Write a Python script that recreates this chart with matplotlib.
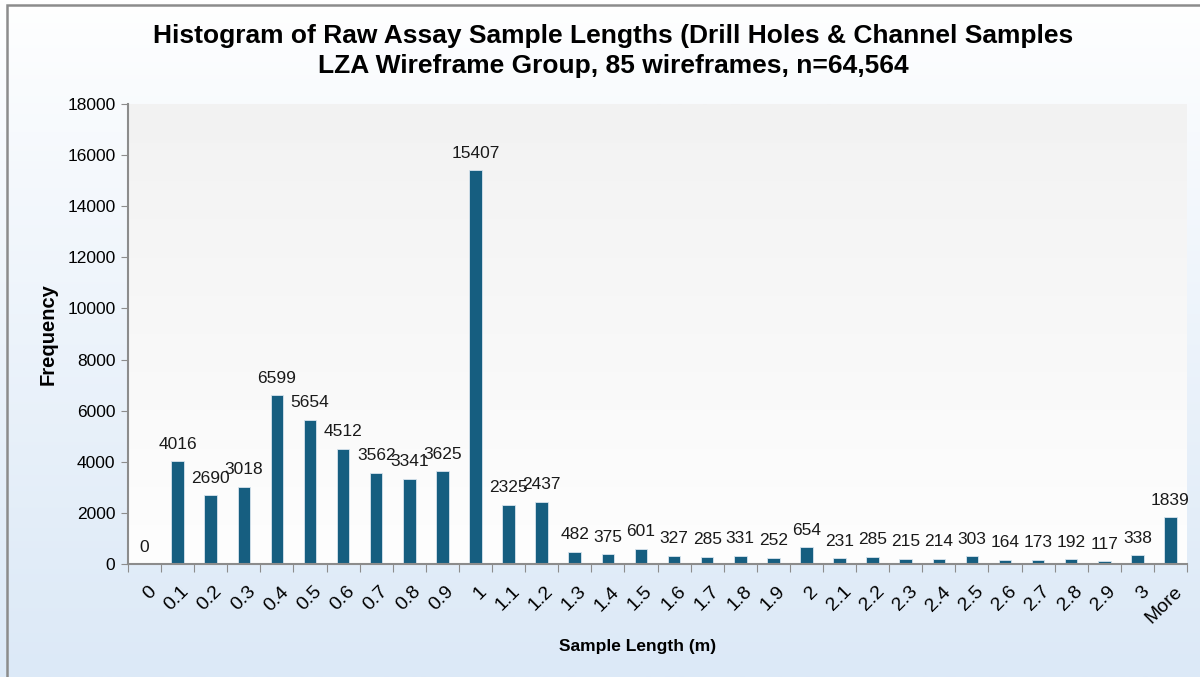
import numpy as np
import matplotlib
matplotlib.use("Agg")
import matplotlib.pyplot as plt
from matplotlib.patches import Rectangle
from matplotlib.transforms import ScaledTranslation

# Histogram bins (upper edge of each length class) and counts
bins = ["0", "0.1", "0.2", "0.3", "0.4", "0.5", "0.6", "0.7", "0.8", "0.9",
        "1", "1.1", "1.2", "1.3", "1.4", "1.5", "1.6", "1.7", "1.8", "1.9",
        "2", "2.1", "2.2", "2.3", "2.4", "2.5", "2.6", "2.7", "2.8", "2.9",
        "3", "More"]
counts = [0, 4016, 2690, 3018, 6599, 5654, 4512, 3562, 3341, 3625,
          15407, 2325, 2437, 482, 375, 601, 327, 285, 331, 252,
          654, 231, 285, 215, 214, 303, 164, 173, 192, 117,
          338, 1839]

title = ("Histogram of Raw Assay Sample Lengths (Drill Holes & Channel Samples\n"
         "LZA Wireframe Group, 85 wireframes, n=64,564")

plt.rcParams["font.family"] = ["Liberation Sans", "DejaVu Sans"]

W, H = 1200, 677
fig = plt.figure(figsize=(W / 100, H / 100), dpi=100)

# figure background: white at the top fading to pale blue
bg = fig.add_axes([0, 0, 1, 1], zorder=-10)
t = np.linspace(0, 1, 256)[:, None]
top = np.array([1.0, 1.0, 1.0])
bot = np.array([220, 233, 247]) / 255
grad = top + (bot - top) * t[..., None] ** 0.9
bg.imshow(grad, aspect="auto", extent=[0, 1, 0, 1], origin="upper")
bg.set_axis_off()
# chart frame (only the left and top edges fall inside the image)
bg.add_patch(Rectangle((7 / W, -0.1), 1.2, 1 - 5 / H + 0.1, fill=False,
                       edgecolor="#8c8c8c", linewidth=1.8,
                       transform=bg.transAxes, clip_on=False))
bg.set_xlim(0, 1)
bg.set_ylim(0, 1)

left, right, top_px, bottom_px = 128, 1187, 104, 564
ax = fig.add_axes([left / W, 1 - bottom_px / H, (right - left) / W,
                   (bottom_px - top_px) / H])
ax.patch.set_alpha(0)

# plot area: light grey at the top fading to white
pg = np.linspace(0, 1, 256)[:, None, None]
pa = np.array([242, 242, 242]) / 255 * (1 - pg) + np.array([254, 254, 254]) / 255 * pg
ax.imshow(pa, aspect="auto", extent=[0, 1, 0, 1], origin="upper",
          transform=ax.transAxes, zorder=0)

x = np.arange(len(bins))
ax.bar(x, counts, width=0.38, color="#165e80", edgecolor="#d8e4ee",
       linewidth=0.6, zorder=2)

for xi, c in zip(x, counts):
    ax.annotate(str(c), (xi, c), xytext=(0, 9), textcoords="offset points",
                ha="center", va="baseline", fontsize=12.5,
                color="#1a1a1a", zorder=3)

ax.set_xlim(-0.5, len(bins) - 0.5)
ax.set_ylim(0, 18000)
ax.set_yticks(np.arange(0, 18001, 2000))
ax.tick_params(axis="y", labelsize=12.5, direction="out", length=5,
               color="#8c8c8c", pad=4)

# ticks sit on the bin boundaries, labels on the bars
ax.set_xticks(np.arange(-0.5, len(bins), 1))
ax.set_xticklabels([])
ax.tick_params(axis="x", direction="out", length=6, color="#8c8c8c")
ax.set_xticks(x, minor=True)
ax.set_xticklabels(bins, minor=True, rotation=45, ha="right",
                   rotation_mode="anchor", fontsize=14)
ax.tick_params(axis="x", which="minor", length=0, pad=8)
# push the rotated labels straight down a little
shift = ScaledTranslation(0.03, -0.08, fig.dpi_scale_trans)
for lbl in ax.get_xticklabels(minor=True):
    lbl.set_transform(lbl.get_transform() + shift)

for s in ("top", "right"):
    ax.spines[s].set_visible(False)
for s in ("left", "bottom"):
    ax.spines[s].set_color("#8c8c8c")
    ax.spines[s].set_linewidth(1.5)

fig.text(0.511, 1 - 51 / H, title, ha="center", va="center", fontsize=19,
         fontweight="bold", linespacing=1.3)
ax.set_ylabel("Frequency", fontsize=14.5, fontweight="bold", labelpad=7)
fig.text(638 / W, 1 - 647 / H, "Sample Length (m)", ha="center", va="center",
         fontsize=12.5, fontweight="bold")

fig.savefig("out.png", dpi=100)
